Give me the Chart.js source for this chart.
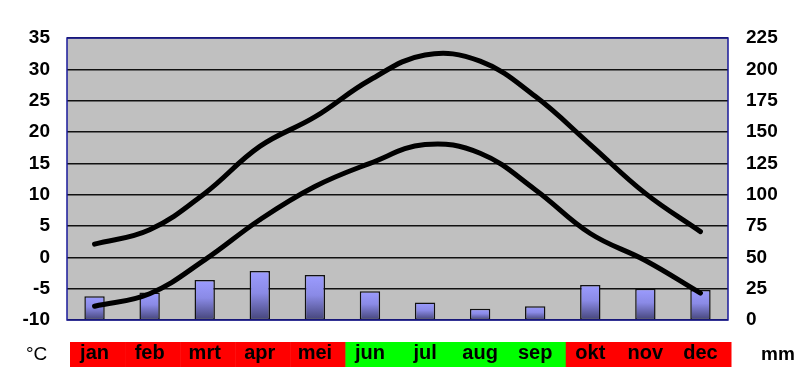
<!DOCTYPE html>
<html>
<head>
<meta charset="utf-8">
<script src="https://cdn.jsdelivr.net/npm/chart.js@4/dist/chart.umd.min.js"></script>
<style>
  html, body { margin: 0; padding: 0; background: #fff; }
  #wrap { width: 800px; height: 391px; }
</style>
</head>
<body>
<div id="wrap"><canvas id="climate"></canvas></div>
<script>
const months = ["jan", "feb", "mrt", "apr", "mei", "jun", "jul", "aug", "sep", "okt", "nov", "dec"];
const tempMax = [2.1, 4.4, 10.2, 17.7, 22.4, 28.3, 32.3, 31.3, 25.7, 18.0, 10.2, 4.1];
const tempMin = [-7.8, -5.8, -0.4, 6.0, 11.3, 15.0, 18.0, 16.6, 10.8, 3.8, -0.5, -5.7];
const rainMm = [19, 22, 32, 39, 36, 23, 14, 9, 11, 28, 25, 24];
const goodMonth = [false, false, false, false, false, true, true, true, true, false, false, false];

const tickFont = { family: "'Liberation Sans', Arial, sans-serif", size: 19, weight: "bold" };

// month band, plot background, border and unit labels
const decor = {
  id: "decor",
  beforeDraw(chart) {
    const { ctx, chartArea: a } = chart;
    ctx.save();
    ctx.fillStyle = "#c0c0c0";
    ctx.fillRect(a.left, a.top, a.right - a.left, a.bottom - a.top);
    const x = chart.scales.x;
    const half = (a.right - a.left) / months.length / 2;
    months.forEach((m, i) => {
      const cx = x.getPixelForValue(i) + 3;
      ctx.fillStyle = goodMonth[i] ? "#00ff00" : "#ff0000";
      ctx.fillRect(cx - half, a.bottom + 22, half * 2 + 0.5, 25);
    });
    ctx.restore();
  },
  afterDraw(chart) {
    const { ctx, chartArea: a } = chart;
    ctx.save();
    ctx.strokeStyle = "#1a1a9a";
    ctx.lineWidth = 1.5;
    ctx.strokeRect(a.left, a.top, a.right - a.left, a.bottom - a.top);
    ctx.fillStyle = "#000";
    ctx.textBaseline = "middle";
    ctx.font = "19px 'Liberation Sans', Arial, sans-serif";
    ctx.fillText("°C", 26, 355);
    ctx.font = "bold 19px 'Liberation Sans', Arial, sans-serif";
    ctx.fillText("mm", 761, 355);
    ctx.restore();
  }
};

new Chart(document.getElementById("climate"), {
  data: {
    labels: months,
    datasets: [
      {
        type: "line",
        data: tempMax,
        yAxisID: "y",
        borderColor: "#000",
        borderWidth: 5,
        borderCapStyle: "round",
        tension: 0.4,
        pointRadius: 0,
        order: 0
      },
      {
        type: "line",
        data: tempMin,
        yAxisID: "y",
        borderColor: "#000",
        borderWidth: 5,
        borderCapStyle: "round",
        tension: 0.4,
        pointRadius: 0,
        order: 0
      },
      {
        type: "bar",
        data: rainMm,
        yAxisID: "y2",
        borderColor: "#111",
        borderWidth: 1.5,
        borderSkipped: false,
        categoryPercentage: 1,
        barPercentage: 0.37,
        order: 1,
        backgroundColor(c) {
          const chart = c.chart;
          const area = chart.chartArea;
          if (!area || c.raw == null) return "#9a9aff";
          const top = chart.scales.y2.getPixelForValue(c.raw);
          const g = chart.ctx.createLinearGradient(0, top, 0, area.bottom);
          g.addColorStop(0, "#9c9cff");
          g.addColorStop(0.45, "#8a8ae6");
          g.addColorStop(1, "#45457a");
          return g;
        }
      }
    ]
  },
  options: {
    responsive: true,
    maintainAspectRatio: false,
    animation: false,
    layout: { padding: { top: 38, left: 0, right: 0, bottom: 0 } },
    plugins: { legend: { display: false }, tooltip: { enabled: false } },
    scales: {
      x: {
        offset: true,
        grid: { display: false, drawTicks: false },
        border: { display: false },
        ticks: { color: "#000", font: { ...tickFont, size: 20 }, padding: 21, maxRotation: 0 },
        afterFit(s) { s.height = 71; }
      },
      y: {
        position: "left",
        min: -10,
        max: 35,
        grid: { color: "#111", lineWidth: 1.5, drawTicks: false },
        border: { display: false },
        ticks: { stepSize: 5, color: "#000", font: tickFont, padding: 17 },
        afterFit(s) { s.width = 67; }
      },
      y2: {
        position: "right",
        min: 0,
        max: 225,
        grid: { display: false, drawTicks: false },
        border: { display: false },
        ticks: { stepSize: 25, color: "#000", font: tickFont, padding: 18 },
        afterFit(s) { s.width = 72; }
      }
    }
  },
  plugins: [decor]
});
</script>
</body>
</html>
